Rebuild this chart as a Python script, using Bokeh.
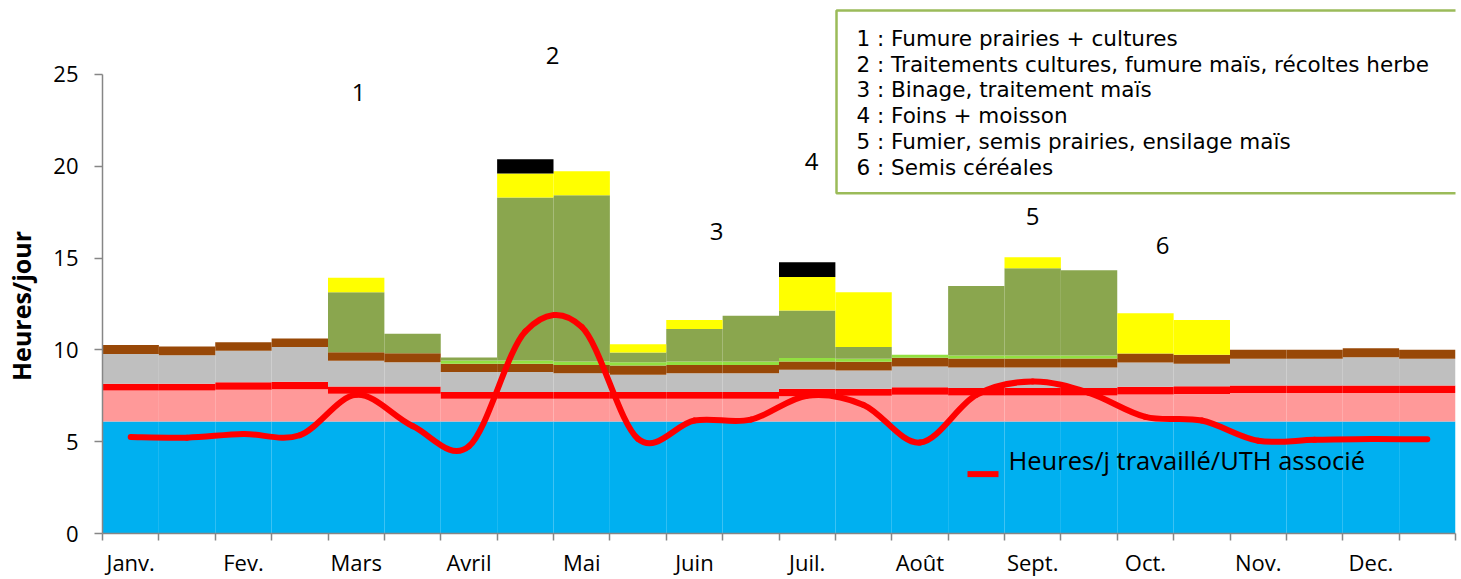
from bokeh.plotting import figure
from bokeh.models import FixedTicker, Label, ColumnDataSource
from bokeh.embed import file_html
from bokeh.resources import INLINE

# ---------------- data ----------------
months = ["Janv.", "Fev.", "Mars", "Avril", "Mai", "Juin", "Juil.", "Août",
          "Sept.", "Oct.", "Nov.", "Dec."]
# 24 half-month periods (2 per month)
blue   = [6.10, 6.10, 6.10, 6.10, 6.10, 6.10, 6.10, 6.10, 6.10, 6.10, 6.10, 6.10,
          6.10, 6.10, 6.10, 6.10, 6.10, 6.10, 6.10, 6.10, 6.10, 6.10, 6.10, 6.10]
pink   = [1.69, 1.69, 1.73, 1.76, 1.51, 1.51, 1.24, 1.24, 1.24, 1.24, 1.24, 1.24,
          1.38, 1.40, 1.45, 1.42, 1.42, 1.42, 1.47, 1.49, 1.55, 1.55, 1.55, 1.55]
red    = [0.36, 0.36, 0.41, 0.40, 0.40, 0.40, 0.36, 0.36, 0.36, 0.36, 0.36, 0.36,
          0.40, 0.38, 0.42, 0.40, 0.40, 0.40, 0.42, 0.43, 0.41, 0.41, 0.41, 0.41]
gray   = [1.63, 1.56, 1.71, 1.89, 1.39, 1.32, 1.09, 1.09, 1.03, 0.94, 1.03, 1.03,
          1.03, 1.00, 1.12, 1.12, 1.12, 1.12, 1.32, 1.22, 1.45, 1.45, 1.54, 1.45]
brown  = [0.48, 0.47, 0.47, 0.47, 0.47, 0.49, 0.45, 0.45, 0.45, 0.51, 0.45, 0.45,
          0.46, 0.47, 0.48, 0.49, 0.49, 0.49, 0.49, 0.49, 0.49, 0.49, 0.49, 0.49]
lgreen = [0.00, 0.00, 0.00, 0.00, 0.00, 0.00, 0.18, 0.18, 0.19, 0.17, 0.19, 0.19,
          0.18, 0.16, 0.16, 0.16, 0.16, 0.16, 0.00, 0.00, 0.00, 0.00, 0.00, 0.00]
olive  = [0.00, 0.00, 0.00, 0.00, 3.26, 1.05, 0.16, 8.88, 9.05, 0.54, 1.77, 2.48,
          2.59, 0.65, 0.00, 3.79, 4.75, 4.64, 0.00, 0.00, 0.00, 0.00, 0.00, 0.00]
yellow = [0.00, 0.00, 0.00, 0.00, 0.80, 0.00, 0.00, 1.30, 1.31, 0.45, 0.49, 0.00,
          1.83, 2.97, 0.00, 0.00, 0.60, 0.00, 2.19, 1.90, 0.00, 0.00, 0.00, 0.00]
black  = [0.00, 0.00, 0.00, 0.00, 0.00, 0.00, 0.00, 0.78, 0.00, 0.00, 0.00, 0.00,
          0.80, 0.00, 0.00, 0.00, 0.00, 0.00, 0.00, 0.00, 0.00, 0.00, 0.00, 0.00]
# Heures/j travaillé/UTH associé
uth    = [5.25, 5.22, 5.42, 5.35, 7.55, 5.85, 4.75, 11.00, 11.25, 5.15, 6.15, 6.20,
          7.50, 7.00, 4.95, 7.55, 8.28, 7.66, 6.35, 6.15, 5.05, 5.10, 5.15, 5.13]

notes = ["1 : Fumure prairies + cultures",
         "2 : Traitements cultures, fumure maïs, récoltes herbe",
         "3 : Binage, traitement maïs",
         "4 : Foins + moisson",
         "5 : Fumier, semis prairies, ensilage maïs",
         "6 : Semis céréales"]
periods = ["1", "2", "3", "4", "5", "6"]
line_label = "Heures/j travaillé/UTH associé"
y_label = "Heures/jour"

# ---------------- layout ----------------
W, H = 1461, 579
ML, MR, MB = 102, 6, 45
FW = W - ML - MR
FH = H - MB
PXY = 18.4                 # px per hour
Y_TOP = FH / PXY
XS = FW / 24.0

def dx(px):  # page x -> data x
    return (px - ML) / XS

def dy(py):  # page y -> data y
    return (FH - py) / PXY

p = figure(width=W, height=H, output_backend="svg", toolbar_location=None,
           x_range=(0, 24), y_range=(0, Y_TOP),
           min_border_left=ML, min_border_right=MR, min_border_top=0,
           min_border_bottom=MB, background_fill_color="white",
           border_fill_color="white")
p.outline_line_color = None
p.grid.visible = False

n = len(blue)
xc = [i + 0.5 for i in range(n)]
keys = ["blue", "pink", "red", "gray", "brown", "lgreen", "olive", "yellow", "black"]
colors = ["#00B0F0", "#FF9999", "#FF0000", "#BFBFBF", "#984807", "#92E040",
          "#8AA64E", "#FFFF00", "#000000"]
src = ColumnDataSource(dict(x=xc, blue=blue, pink=pink, red=red, gray=gray,
                            brown=brown, lgreen=lgreen, olive=olive,
                            yellow=yellow, black=black))
p.vbar_stack(keys, x="x", width=1.0, color=colors, source=src, line_color=None)

# smoothed line (Excel-like smoothing through the data points)
x0, y0, x1, y1, cx0, cy0, cx1, cy1 = [], [], [], [], [], [], [], []
for i in range(n - 1):
    im, ip2 = max(i - 1, 0), min(i + 2, n - 1)
    x0.append(xc[i]); y0.append(uth[i]); x1.append(xc[i + 1]); y1.append(uth[i + 1])
    cx0.append(xc[i] + (xc[i + 1] - xc[im]) / 6.0)
    cy0.append(uth[i] + (uth[i + 1] - uth[im]) / 6.0)
    cx1.append(xc[i + 1] - (xc[ip2] - xc[i]) / 6.0)
    cy1.append(uth[i + 1] - (uth[ip2] - uth[i]) / 6.0)
p.bezier(x0=x0, y0=y0, x1=x1, y1=y1, cx0=cx0, cy0=cy0, cx1=cx1, cy1=cy1,
         line_color="#FF0000", line_width=6, line_cap="round")

# axes
p.xaxis.ticker = FixedTicker(ticks=[0.5 + 2 * k for k in range(12)],
                             minor_ticks=list(range(25)))
p.xaxis.major_label_overrides = {0.5 + 2 * k: months[k] for k in range(12)}
p.xaxis.major_tick_out = 0
p.xaxis.major_tick_in = 0
p.xaxis.minor_tick_out = 7
p.xaxis.minor_tick_in = 0
p.xaxis.bounds = (0, 24)
p.xaxis.major_label_standoff = 6
p.xaxis.major_label_text_font = "Open Sans"
p.xaxis.major_label_text_font_size = "22px"
p.xaxis.major_label_text_color = "#000000"

p.yaxis.ticker = FixedTicker(ticks=[0, 5, 10, 15, 20, 25], minor_ticks=[])
p.yaxis.bounds = (0, 25)
p.yaxis.major_tick_out = 8
p.yaxis.major_tick_in = 0
p.yaxis.minor_tick_out = 0
p.yaxis.minor_tick_in = 0
p.yaxis.major_label_standoff = 16
p.yaxis.major_label_text_font = "Open Sans"
p.yaxis.major_label_text_font_size = "22px"
p.yaxis.major_label_text_color = "#000000"
# title centred on the 0-25 part of the axis (trailing no-break spaces shift it)
p.yaxis.axis_label = y_label + "\u00a0" * 12
p.yaxis.axis_label_text_font = "Open Sans"
p.yaxis.axis_label_text_font_style = "bold"
p.yaxis.axis_label_text_font_size = "25px"
p.yaxis.axis_label_text_color = "#000000"
p.yaxis.axis_label_standoff = 12
for ax in (p.xaxis, p.yaxis):
    ax.axis_line_color = "#868686"
    ax.axis_line_width = 1.5
    ax.major_tick_line_color = "#868686"
    ax.minor_tick_line_color = "#868686"
    ax.major_tick_line_width = 1.5
    ax.minor_tick_line_width = 1.5

# period numbers
num_pos = [(358, 92), (552, 55), (716, 231), (811, 161), (1032, 216), (1162, 245)]
for t, (px, py) in zip(periods, num_pos):
    p.add_layout(Label(x=dx(px), y=dy(py), text=t, text_align="center",
                       text_baseline="middle", text_font="Open Sans",
                       text_font_size="24px", text_color="#000000"))

# notes box
p.quad(left=dx(836), right=dx(1530), bottom=dy(193), top=dy(10),
       fill_color="white", line_color="#9BBB59", line_width=2.5)
for k, t in enumerate(notes):
    p.add_layout(Label(x=dx(856), y=dy(38 + 25.8 * k), text=t, text_align="left",
                       text_baseline="middle", text_font="DejaVu Sans",
                       text_font_size="21.5px", text_color="#000000"))

# line legend
p.line(x=[dx(967), dx(998)], y=[dy(474.5), dy(474.5)], line_color="#FF0000",
       line_width=6)
p.add_layout(Label(x=dx(1008), y=dy(460), text=line_label, text_align="left",
                   text_baseline="middle", text_font="Open Sans",
                   text_font_size="25.5px", text_color="#000000"))

open("out.html", "w").write(file_html(p, INLINE))
